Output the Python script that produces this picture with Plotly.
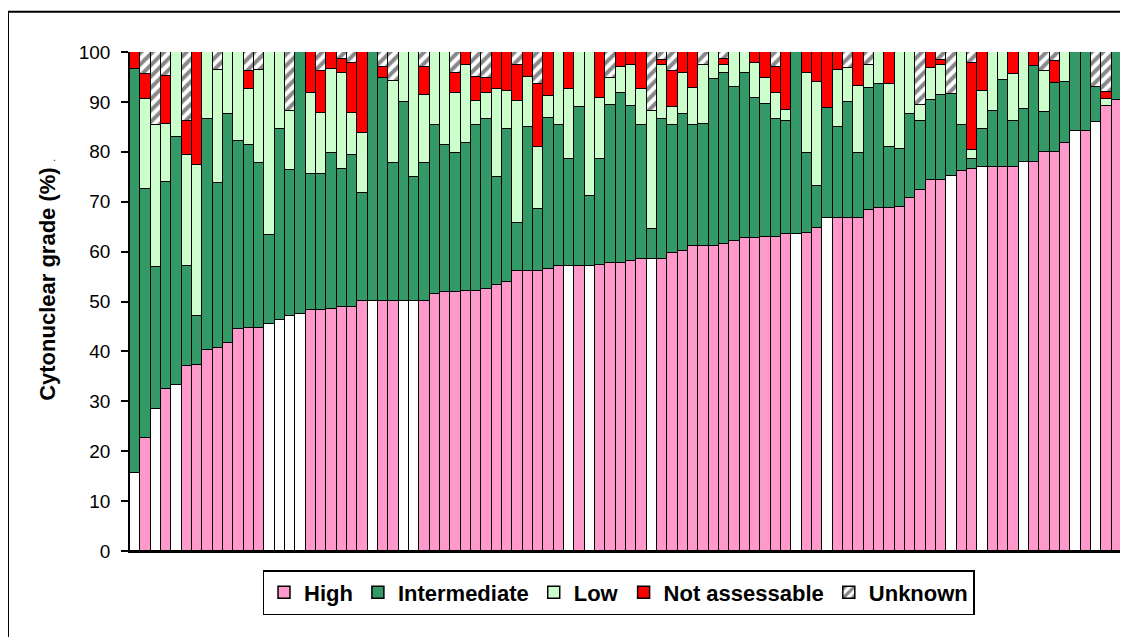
import plotly.graph_objects as go

# Values per bar (percent), 96 bars sorted by "High"
high = [15.7, 22.7, 28.5, 32.5, 33.3, 37.0, 37.3, 40.2, 40.6, 41.7,
        44.4, 44.6, 44.6, 45.4, 46.2, 47.0, 47.4, 48.2, 48.2, 48.5,
        48.9, 48.9, 50.2, 50.2, 50.2, 50.2, 50.2, 50.2, 50.2, 51.5,
        51.9, 51.9, 52.2, 52.2, 52.6, 53.4, 53.9, 56.2, 56.2, 56.2,
        56.6, 57.1, 57.1, 57.1, 57.1, 57.4, 57.8, 57.8, 58.1, 58.6,
        58.6, 58.6, 59.8, 60.1, 61.1, 61.1, 61.1, 61.5, 62.1, 62.7,
        62.7, 62.9, 62.9, 63.5, 63.5, 63.8, 64.8, 66.8, 66.8, 66.8,
        66.8, 68.4, 68.8, 68.8, 69.0, 70.7, 72.4, 74.4, 74.4, 75.2,
        76.2, 76.6, 76.9, 76.9, 76.9, 76.9, 77.9, 77.9, 79.9, 79.9,
        81.8, 84.1, 84.1, 85.9, 89.2, 90.3]
intermediate = [80.9, 49.9, 28.4, 41.5, 49.7, 20.1, 9.8, 46.3, 33.2, 45.8,
                37.8, 36.8, 33.2, 17.9, 38.3, 29.3, 52.6, 27.4, 27.4, 31.2,
                27.7, 30.4, 21.5, 49.8, 44.5, 27.6, 39.7, 24.7, 27.6, 33.8,
                29.4, 27.8, 29.6, 33.2, 33.9, 21.5, 30.6, 9.5, 28.8, 12.3,
                30.2, 28.3, 21.4, 31.9, 14.1, 21.1, 31.5, 34.0, 31.0, 26.8,
                5.9, 27.9, 25.5, 27.4, 24.2, 24.5, 33.4, 34.2, 30.9, 33.0,
                28.0, 26.6, 23.6, 22.6, 36.5, 15.9, 8.4, 21.9, 18.2, 23.2,
                12.9, 24.3, 24.7, 12.2, 11.6, 16.8, 13.7, 15.9, 16.9, 16.3,
                9.2, 2.0, 7.7, 11.3, 17.4, 9.3, 10.7, 19.2, 8.0, 13.9,
                12.1, 15.9, 15.9, 7.1, 0.0, 9.7]
low = [0.0, 17.9, 28.4, 11.6, 17.0, 22.2, 30.2, 13.5, 22.6, 12.5,
       17.8, 11.2, 18.6, 36.7, 15.5, 11.9, 0.0, 16.2, 12.1, 16.9,
       19.1, 8.4, 12.1, 0.0, 0.0, 16.4, 10.1, 25.1, 13.5, 14.7,
       18.7, 12.1, 15.6, 4.7, 5.3, 17.7, 7.7, 24.4, 10.0, 12.5,
       4.3, 14.6, 14.1, 11.0, 28.8, 12.2, 5.4, 5.2, 8.3, 7.2,
       23.6, 10.8, 3.7, 8.2, 7.4, 11.7, 5.5, 1.6, 7.0, 4.3,
       7.0, 5.3, 5.3, 2.2, 0.0, 16.0, 20.7, 0.0, 11.4, 6.7,
       13.5, 4.7, 6.5, 12.5, 19.4, 12.5, 3.2, 6.5, 6.0, 0.0,
       14.6, 1.8, 7.6, 11.8, 5.7, 9.3, 11.4, 0.0, 8.2, 0.0,
       6.1, 0.0, 0.0, 0.0, 1.4, 0.0]
not_assessable = [3.4, 5.0, 0.0, 9.6, 0.0, 6.8, 22.7, 0.0, 0.0, 0.0,
                  0.0, 3.6, 0.0, 0.0, 0.0, 0.0, 0.0, 8.2, 8.5, 3.4,
                  2.9, 10.0, 16.2, 0.0, 2.3, 0.0, 0.0, 0.0, 5.7, 0.0,
                  0.0, 3.9, 2.6, 4.8, 2.9, 7.4, 7.8, 7.3, 5.0, 12.5,
                  8.9, 0.0, 7.4, 0.0, 0.0, 9.3, 0.0, 3.0, 2.6, 7.4,
                  0.0, 1.1, 7.2, 4.3, 7.3, 0.0, 0.0, 1.3, 0.0, 0.0,
                  2.3, 5.2, 5.2, 11.7, 0.0, 4.3, 6.1, 11.3, 3.6, 0.0,
                  6.8, 0.0, 0.0, 6.5, 0.0, 0.0, 0.0, 3.2, 1.1, 0.0,
                  0.0, 17.4, 7.8, 0.0, 0.0, 4.5, 0.0, 2.9, 0.0, 4.3,
                  0.0, 0.0, 0.0, 0.0, 1.3, 0.0]
unknown = [0.0, 4.5, 14.7, 4.8, 0.0, 13.9, 0.0, 0.0, 3.6, 0.0,
           0.0, 3.8, 3.6, 0.0, 0.0, 11.8, 0.0, 0.0, 3.8, 0.0,
           1.4, 2.3, 0.0, 0.0, 3.0, 5.8, 0.0, 0.0, 3.0, 0.0,
           0.0, 4.3, 0.0, 5.1, 5.3, 0.0, 0.0, 2.6, 0.0, 6.5,
           0.0, 0.0, 0.0, 0.0, 0.0, 0.0, 5.3, 0.0, 0.0, 0.0,
           11.9, 1.6, 3.8, 0.0, 0.0, 2.7, 0.0, 1.4, 0.0, 0.0,
           0.0, 0.0, 3.0, 0.0, 0.0, 0.0, 0.0, 0.0, 0.0, 3.3,
           0.0, 2.6, 0.0, 0.0, 0.0, 0.0, 10.7, 0.0, 1.6, 8.5,
           0.0, 2.2, 0.0, 0.0, 0.0, 0.0, 0.0, 0.0, 3.9, 1.9,
           0.0, 0.0, 0.0, 7.0, 8.1, 0.0]
# bars whose "High" segment is drawn white instead of pink (1-based)
white_high_bars = [1, 3, 5, 14, 15, 16, 17, 24, 27, 28, 43, 45, 51, 65, 68,
                   80, 83, 87, 92, 94]

n = len(high)
cats = list(range(1, n + 1))

PINK = "#FF99CC"
GREEN = "#339966"
LIGHT = "#CCFFCC"
RED = "#FF0000"
FONT = "Liberation Sans, Arial, sans-serif"

high_colors = ["#FFFFFF" if c in white_high_bars else PINK for c in cats]
line = dict(color="black", width=1.5)

fig = go.Figure()
# legend entry for High (the real trace has mixed colours)
fig.add_trace(go.Bar(x=[None], y=[None], name="High",
                     marker=dict(color=PINK, line=line)))
fig.add_trace(go.Bar(x=cats, y=high, name="High", showlegend=False,
                     marker=dict(color=high_colors, line=line)))
fig.add_trace(go.Bar(x=cats, y=intermediate, name="Intermediate",
                     marker=dict(color=GREEN, line=line)))
fig.add_trace(go.Bar(x=cats, y=low, name="Low",
                     marker=dict(color=LIGHT, line=line)))
fig.add_trace(go.Bar(x=cats, y=not_assessable, name="Not assessable",
                     marker=dict(color=RED, line=line)))
fig.add_trace(go.Bar(x=cats, y=unknown, name="Unknown",
                     marker=dict(color="white", line=line,
                                 pattern=dict(shape="/", fgcolor="#111111",
                                              bgcolor="white", size=8,
                                              solidity=0.5))))

# page is offset by the 8px body margin; work in figure coordinates
OFF = 8
W, H = 1128 - OFF, 637 - OFF
L, R, T, B = 130 - OFF, 1122 - OFF, 52.3 - OFF, 551 - OFF
pw, ph = R - L, B - T


def px(xpage):
    return (xpage - OFF - L) / pw


def py(ypage):
    return (B - (ypage - OFF)) / ph


fig.update_layout(
    width=W, height=H,
    margin=dict(l=L, r=W - R, t=T, b=H - B, autoexpand=False),
    barmode="stack", bargap=0,
    plot_bgcolor="white", paper_bgcolor="white",
    font=dict(family=FONT, color="black"),
    showlegend=True,
    legend=dict(orientation="h", traceorder="normal",
                x=px(618.5), xanchor="center", y=py(570),
                yanchor="top", bordercolor="black", borderwidth=1.5,
                bgcolor="white", itemwidth=30,
                font=dict(size=22, family=FONT, weight="bold")),
    xaxis=dict(range=[0.5, n + 0.5], showticklabels=False, ticks="",
               showgrid=False, zeroline=False, showline=True,
               linecolor="black", linewidth=1.5),
    yaxis=dict(range=[0, 100], dtick=10, ticks="outside", ticklen=7,
               tickcolor="black", tickwidth=1.5, showgrid=False,
               zeroline=False, showline=True, linecolor="black",
               linewidth=1.5, ticklabelstandoff=7,
               tickfont=dict(size=19, family=FONT)),
    annotations=[dict(text="Cytonuclear grade (%) <span style='font-size:7px'>.</span>",
                      textangle=-90, xref="paper", yref="paper",
                      x=px(48), y=py(280), xanchor="center", yanchor="middle",
                      showarrow=False,
                      font=dict(size=22, family=FONT, weight="bold"))],
    shapes=[dict(type="rect", xref="paper", yref="paper",
                 x0=px(8), x1=px(1135), y0=py(645), y1=py(12),
                 line=dict(color="black", width=2), layer="below")],
)

fig.write_html("out.html")
